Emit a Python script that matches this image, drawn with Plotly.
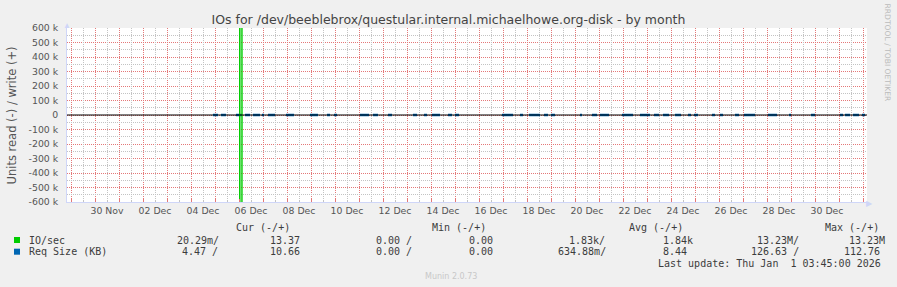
import plotly.graph_objects as go
from datetime import datetime, timedelta

# ---------------- data ----------------
title_text = "IOs for /dev/beeblebrox/questular.internal.michaelhowe.org-disk - by month"
x_start = "2025-11-28 20:00"
x_end = "2026-01-01 04:00"

# IO/sec spike (write positive, read negative)
io_times = ["2025-12-06 00:36", "2025-12-06 01:51", "2025-12-06 03:06"]
io_write = [0, 13.23e6, 0]
io_read = [0, 13.23e6, 0]

# Req Size (KB), read side: periods with activity (hours after the start of the graph)
read_base = "2025-11-28 20:00"
read_on_h = [146, 154, 169, 178, 186, 195, 201, 219, 243, 260, 267, 293, 306, 321, 346,
             357, 365, 381, 388, 435, 453, 462, 477, 484, 513, 525, 533, 555, 573, 587,
             596, 608, 621, 627, 645, 653, 668, 677, 701, 722, 744, 773, 778, 786, 795]
read_off_h = [151, 159, 175, 183, 193, 197, 208, 227, 251, 263, 270, 302, 311, 325, 350,
              360, 373, 385, 392, 446, 456, 473, 481, 488, 515, 530, 542, 566, 583, 592,
              602, 614, 624, 631, 648, 656, 672, 688, 710, 724, 748, 776, 783, 792, 798]
read_size = [4.5, 6.1, 8.4, 5.2, 12.7, 3.9, 7.3, 9.8, 4.1, 6.6, 5.5, 11.2, 4.8, 3.6, 7.9,
             5.0, 8.8, 4.3, 6.2, 10.4, 3.7, 9.1, 5.8, 4.6, 3.2, 6.9, 8.1, 7.4, 9.6, 5.3,
             4.9, 6.4, 3.8, 5.7, 4.2, 3.5, 6.0, 10.9, 8.6, 3.3, 4.4, 3.9, 5.6, 7.1, 4.47]

y_tickvals = [-600000, -500000, -400000, -300000, -200000, -100000, 0,
              100000, 200000, 300000, 400000, 500000, 600000]
y_ticktext = ["-600 k", "-500 k", "-400 k", "-300 k", "-200 k", "-100 k", "0",
              "100 k", "200 k", "300 k", "400 k", "500 k", "600 k"]

x_label_dates = ["2025-11-30 12:00", "2025-12-02 12:00", "2025-12-04 12:00", "2025-12-06 12:00",
                 "2025-12-08 12:00", "2025-12-10 12:00", "2025-12-12 12:00", "2025-12-14 12:00",
                 "2025-12-16 12:00", "2025-12-18 12:00", "2025-12-20 12:00", "2025-12-22 12:00",
                 "2025-12-24 12:00", "2025-12-26 12:00", "2025-12-28 12:00", "2025-12-30 12:00"]
x_label_text = ["30 Nov", "02 Dec", "04 Dec", "06 Dec", "08 Dec", "10 Dec", "12 Dec", "14 Dec",
                "16 Dec", "18 Dec", "20 Dec", "22 Dec", "24 Dec", "26 Dec", "28 Dec", "30 Dec"]

legend_names = ["IO/sec", "Req Size (KB)"]
legend_colors = ["#00CC00", "#0066B3"]
cur_neg = ["20.29m/", "4.47 /"]
cur_pos = ["13.37", "10.66"]
min_neg = ["0.00 /", "0.00 /"]
min_pos = ["0.00", "0.00"]
avg_neg = ["1.83k/", "634.88m/"]
avg_pos = ["1.84k", "8.44"]
max_neg = ["13.23M/", "126.63 /"]
max_pos = ["13.23M", "112.76"]
last_update = "Last update: Thu Jan  1 03:45:00 2026"

# ---------------- figure ----------------
W, H = 897, 287
L, R, T, B = 67, 30, 28, 85
PW, PH = W - L - R, H - T - B


def px(xp):
    return (xp - L) / PW


def py(yp):
    return (H - B - yp) / PH


fig = go.Figure()

# Req size read segments
base = datetime.strptime(read_base, "%Y-%m-%d %H:%M")
bx, by = [], []
for on, off, v in zip(read_on_h, read_off_h, read_size):
    bx += [base + timedelta(hours=on), base + timedelta(hours=off), None]
    by += [-v, -v, None]
fig.add_trace(go.Scatter(x=bx, y=by, mode="lines", line=dict(color="#0066B3", width=2.5),
                         hoverinfo="skip", showlegend=False))

# IO/sec spike
fig.add_trace(go.Scatter(x=io_times, y=io_write, mode="lines",
                         line=dict(color="#00CC00", width=1.2), fill="tozeroy",
                         fillcolor="rgba(0,204,0,0.45)", showlegend=False))
fig.add_trace(go.Scatter(x=io_times, y=[-v for v in io_read], mode="lines",
                         line=dict(color="#00CC00", width=1.2), fill="tozeroy",
                         fillcolor="rgba(0,204,0,0.45)", showlegend=False))

# half-day grid positions + date labels on overlay axis
lab = dict(zip(x_label_dates, x_label_text))
noon0 = datetime(2025, 11, 29, 12, 0)
noon_vals, noon_text = [], []
for d in range(33):
    t = noon0 + timedelta(days=d)
    s = t.strftime("%Y-%m-%d %H:%M")
    noon_vals.append(s)
    noon_text.append(lab.get(s, ""))

# dummy trace that creates the overlay subplot
fig.add_trace(go.Scatter(x=noon_vals, y=[None] * len(noon_vals), xaxis="x2", yaxis="y2",
                         showlegend=False, hoverinfo="skip"))

grid_red = "rgb(228,120,120)"
grid_gray = "rgb(195,195,195)"
axis_col = "#CFD6F8"
gdash = "1px,1px"
tick_font = dict(family="DejaVu Sans", size=9.33, color="#555555")

fig.update_layout(
    width=W, height=H, autosize=False,
    margin=dict(l=L, r=R, t=T, b=B, pad=0),
    paper_bgcolor="#F0F0F0", plot_bgcolor="#FFFFFF",
    showlegend=False,
    title=dict(text=title_text, x=0.5, xref="container", xanchor="center",
               y=1 - 20 / H, yanchor="middle",
               font=dict(family="DejaVu Sans", size=12.5, color="#444444")),
    xaxis=dict(type="date", range=[x_start, x_end], tick0="2025-11-29 00:00",
               dtick=86400000, showticklabels=False, showgrid=True, gridcolor=grid_red,
               griddash=gdash, gridwidth=1, ticks="inside", ticklen=3, tickcolor=grid_red,
               showline=True, linecolor=axis_col, linewidth=1, zeroline=False,
               fixedrange=True),
    xaxis2=dict(type="date", overlaying="x", anchor="y2", side="bottom",
                range=[x_start, x_end],
                tickmode="array", tickvals=noon_vals, ticktext=noon_text,
                showgrid=True, gridcolor=grid_gray, griddash=gdash, gridwidth=1,
                ticks="inside", ticklen=2, tickcolor=grid_gray,
                tickfont=tick_font, showline=False, ticklabelstandoff=2,
                zeroline=False, fixedrange=True),
    yaxis=dict(range=[-600000, 600000], tickmode="array", tickvals=y_tickvals,
               ticktext=y_ticktext, tickfont=tick_font, showgrid=True, gridcolor=grid_red,
               griddash=gdash, gridwidth=1, ticks="", zeroline=False,
               ticklabelstandoff=6,
               showline=True, linecolor=axis_col, linewidth=1, fixedrange=True),
    yaxis2=dict(range=[-600000, 600000], overlaying="y", anchor="x2", side="left",
                tick0=50000, dtick=100000, showticklabels=False, showgrid=True,
                gridcolor=grid_gray, griddash=gdash, gridwidth=1, ticks="",
                zeroline=False, showline=False, fixedrange=True),
)

# zero rule on top
fig.add_shape(type="line", xref="paper", yref="y", x0=0, x1=1, y0=0, y1=0,
              line=dict(color="#000000", width=1), layer="above")

ann = []
# axis arrows
ann.append(dict(x=px(67), y=py(24), xref="paper", yref="paper", text="▲", showarrow=False,
                font=dict(size=8, color="#CFD6F8"), xanchor="center", yanchor="middle"))
ann.append(dict(x=px(870), y=py(202.5), xref="paper", yref="paper", text="▶", showarrow=False,
                font=dict(size=8, color="#CFD6F8"), xanchor="center", yanchor="middle"))
# y axis label
ann.append(dict(x=px(11.5), y=py(115), xref="paper", yref="paper",
                text="Units read (-) / write (+)", textangle=-90, showarrow=False,
                font=dict(family="DejaVu Sans", size=11.5, color="#555555"),
                xanchor="center", yanchor="middle"))
# rrdtool credit
ann.append(dict(x=px(887.5), y=py(53), xref="paper", yref="paper",
                text="RRDTOOL / TOBI OETIKER", textangle=90, showarrow=False,
                font=dict(family="DejaVu Sans", size=7.6, color="#BBBBBB"),
                xanchor="center", yanchor="middle"))

mono = dict(family="DejaVu Sans Mono", size=10, color="#3c3c3c")


def text_at(x, y, s, font=mono, anchor="left"):
    ann.append(dict(x=px(x), y=py(y), xref="paper", yref="paper", text=s, showarrow=False,
                    font=font, xanchor=anchor, yanchor="middle"))


# legend headers
text_at(234.3, 227.7, "Cur (-/+)")
text_at(430.3, 227.7, "Min (-/+)")
text_at(626.7, 227.7, "Avg (-/+)")
text_at(822.7, 227.7, "Max (-/+)")

row_y = [240, 251.7]
cur_neg_x = [175, 180]
avg_neg_x = [567.3, 556]
max_neg_x = [755, 749.3]
max_pos_x = [847.3, 841.7]
for i in range(2):
    yy = row_y[i]
    fig.add_shape(type="rect", xref="paper", yref="paper",
                  x0=px(14), x1=px(20), y0=py(yy - 3), y1=py(yy + 3),
                  fillcolor=legend_colors[i], line=dict(width=0))
    text_at(26.7, yy, legend_names[i])
    text_at(cur_neg_x[i], yy, cur_neg[i])
    text_at(267.7, yy, cur_pos[i])
    text_at(374, yy, min_neg[i])
    text_at(467.3, yy, min_pos[i])
    text_at(avg_neg_x[i], yy, avg_neg[i])
    text_at(660.7, yy, avg_pos[i])
    text_at(max_neg_x[i], yy, max_neg[i])
    text_at(max_pos_x[i], yy, max_pos[i])

text_at(882.7, 263.3, last_update.replace("  ", "&nbsp; "), anchor="right")
text_at(423.3, 276, "Munin 2.0.73",
        font=dict(family="DejaVu Sans", size=8, color="#C8C8C8"))

fig.update_layout(annotations=ann)

fig.write_html("out.html", config={"displayModeBar": False})
